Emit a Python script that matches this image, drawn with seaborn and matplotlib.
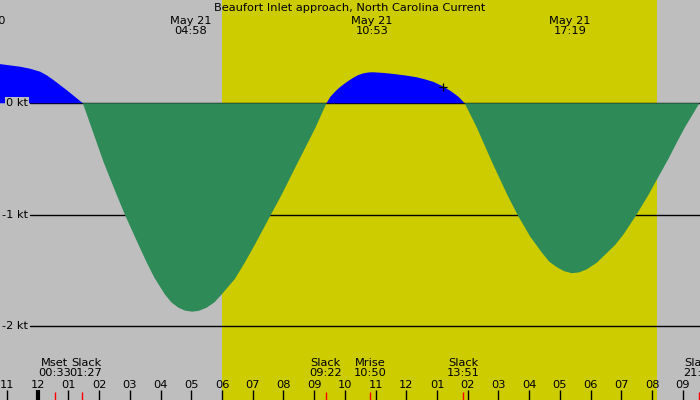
import numpy as np
import pandas as pd
import matplotlib
matplotlib.use("Agg")
import matplotlib.pyplot as plt
import matplotlib.transforms as mtransforms
import seaborn as sns

# Current (knots) against hours after midnight of May 21
hours = [
    -1.25, -0.58, -0.25, 0.08, 0.30, 0.51, 0.94, 1.27, 1.47,
    1.76, 2.14, 2.54, 2.84, 3.28, 3.53, 3.80, 4.14, 4.35, 4.58, 4.80, 5.03,
    5.25, 5.50, 5.75, 5.99, 6.42, 6.75, 7.07, 7.59, 7.94, 8.48, 9.03, 9.40,
    9.52, 9.65, 9.80, 9.95, 10.10, 10.27, 10.43, 10.60, 10.76, 10.92,
    11.25, 11.58, 12.00, 12.34, 12.60, 12.88, 13.15, 13.42, 13.69, 13.90,
    14.29, 14.78, 15.29, 15.63, 16.03, 16.41, 16.65, 16.89, 17.13, 17.38,
    17.62, 17.87, 18.20, 18.52, 18.80, 19.06, 19.48, 19.88, 20.20, 20.53, 20.80, 21.07, 21.54, 21.60,
]
knots = [
    0.352, 0.328, 0.31, 0.283, 0.25, 0.209, 0.119, 0.045, 0.0,
    -0.226, -0.524, -0.80, -1.0, -1.268, -1.417, -1.565, -1.714, -1.785, -1.833, -1.86, -1.869,
    -1.861, -1.833, -1.786, -1.714, -1.575, -1.425, -1.268, -1.0, -0.821, -0.524, -0.226, 0.0,
    0.055, 0.095, 0.135, 0.168, 0.198, 0.228, 0.252, 0.268, 0.276, 0.278,
    0.272, 0.263, 0.248, 0.233, 0.215, 0.192, 0.157, 0.114, 0.060, 0.0,
    -0.215, -0.522, -0.823, -1.005, -1.195, -1.338, -1.42, -1.468, -1.505, -1.524,
    -1.517, -1.49, -1.43, -1.345, -1.27, -1.18, -1.005, -0.823, -0.663, -0.50, -0.355, -0.215, 0.0, 0.01,
]

sunrise = 6.0
sunset = 20.17

kt_levels = [0, -1, -2]
kt_labels = ["0 kt", "-1 kt", "-2 kt"]

tick_hours = list(range(-1, 22))
tick_labels = ["11", "12", "01", "02", "03", "04", "05", "06", "07", "08", "09",
               "10", "11", "12", "01", "02", "03", "04", "05", "06", "07", "08", "09"]

peak_hours = [-1.72, 4.97, 10.88, 17.32]
peak_labels = ["May 20\n22:17", "May 21\n04:58", "May 21\n10:53", "May 21\n17:19"]

event_hours = [0.55, 1.45, 9.37, 10.83, 13.85, 21.53]
event_names = ["Mset", "Slack", "Slack", "Mrise", "Slack", "Slack"]
event_times = ["00:33", "01:27", "09:22", "10:50", "13:51", "21:32"]
event_nudge = [0, 0.12, 0, 0, 0, 0]

now_hour = 13.2
now_knots = 0.15

sns.set_style("white")
plt.rcParams["font.family"] = ["DejaVu Sans"]
plt.rcParams["text.color"] = "black"
fs = 8.2
bg = "#BEBEBE"

df = pd.DataFrame({"hour": hours, "kt": knots})

fig = plt.figure(figsize=(7, 4), dpi=100)
ax = fig.add_axes([0, 0, 1, 1])
ax.set_facecolor(bg)
ax.set_xlim(-1.227, 21.56)
ax.set_ylim(-2.661, 0.926)
for s in ax.spines.values():
    s.set_visible(False)
ax.set_xticks([])
ax.set_yticks([])

# daylight
ax.axvspan(sunrise, sunset, color="#CCCC00", lw=0, zorder=0)

# knot gridlines and labels
ytrans = mtransforms.blended_transform_factory(ax.transAxes, ax.transData)
for lvl, lab in zip(kt_levels, kt_labels):
    ax.axhline(lvl, xmin=30 / 700, color="black", lw=1, zorder=1)
    ax.text(28 / 700, lvl, lab, transform=ytrans, ha="right", va="center", fontsize=fs,
            zorder=5, bbox=dict(facecolor=bg, edgecolor="none", pad=1.0))

# flood / ebb fills
ax.fill_between(df["hour"], df["kt"], 0, where=df["kt"] >= 0, interpolate=True,
                color="#0000FF", lw=0, zorder=2)
ax.fill_between(df["hour"], df["kt"], 0, where=df["kt"] <= 0, interpolate=True,
                color="#2E8B57", lw=0, zorder=2)

sns.scatterplot(x=[now_hour], y=[now_knots], marker="+", color="black", s=35,
                linewidth=0.9, ax=ax, zorder=4)

trans = mtransforms.blended_transform_factory(ax.transData, ax.transAxes)

ax.text(0.5, 0.98, "Beaufort Inlet approach, North Carolina Current", transform=ax.transAxes,
        ha="center", va="center", fontsize=fs)
for h, lab in zip(peak_hours, peak_labels):
    ax.text(h, 0.935, lab, transform=trans, ha="center", va="center", fontsize=fs, linespacing=0.98)

# hour ticks along bottom
for h, lab in zip(tick_hours, tick_labels):
    ax.text(h, 0.0375, lab, transform=trans, ha="center", va="center", fontsize=fs)
ax.vlines(tick_hours, 0, 0.025, transform=trans, color="black", lw=1, zorder=3)
ax.vlines([0], 0, 0.025, transform=trans, color="black", lw=3, zorder=3)

# moon and slack events
ax.vlines(event_hours, 0, 0.02, transform=trans, color="red", lw=1, zorder=3)
for h, n, t, dx in zip(event_hours, event_names, event_times, event_nudge):
    ax.text(h + dx, 0.08, n + "\n" + t, transform=trans, ha="center", va="center",
            fontsize=fs, linespacing=0.95)

fig.savefig("out.png", dpi=100)
